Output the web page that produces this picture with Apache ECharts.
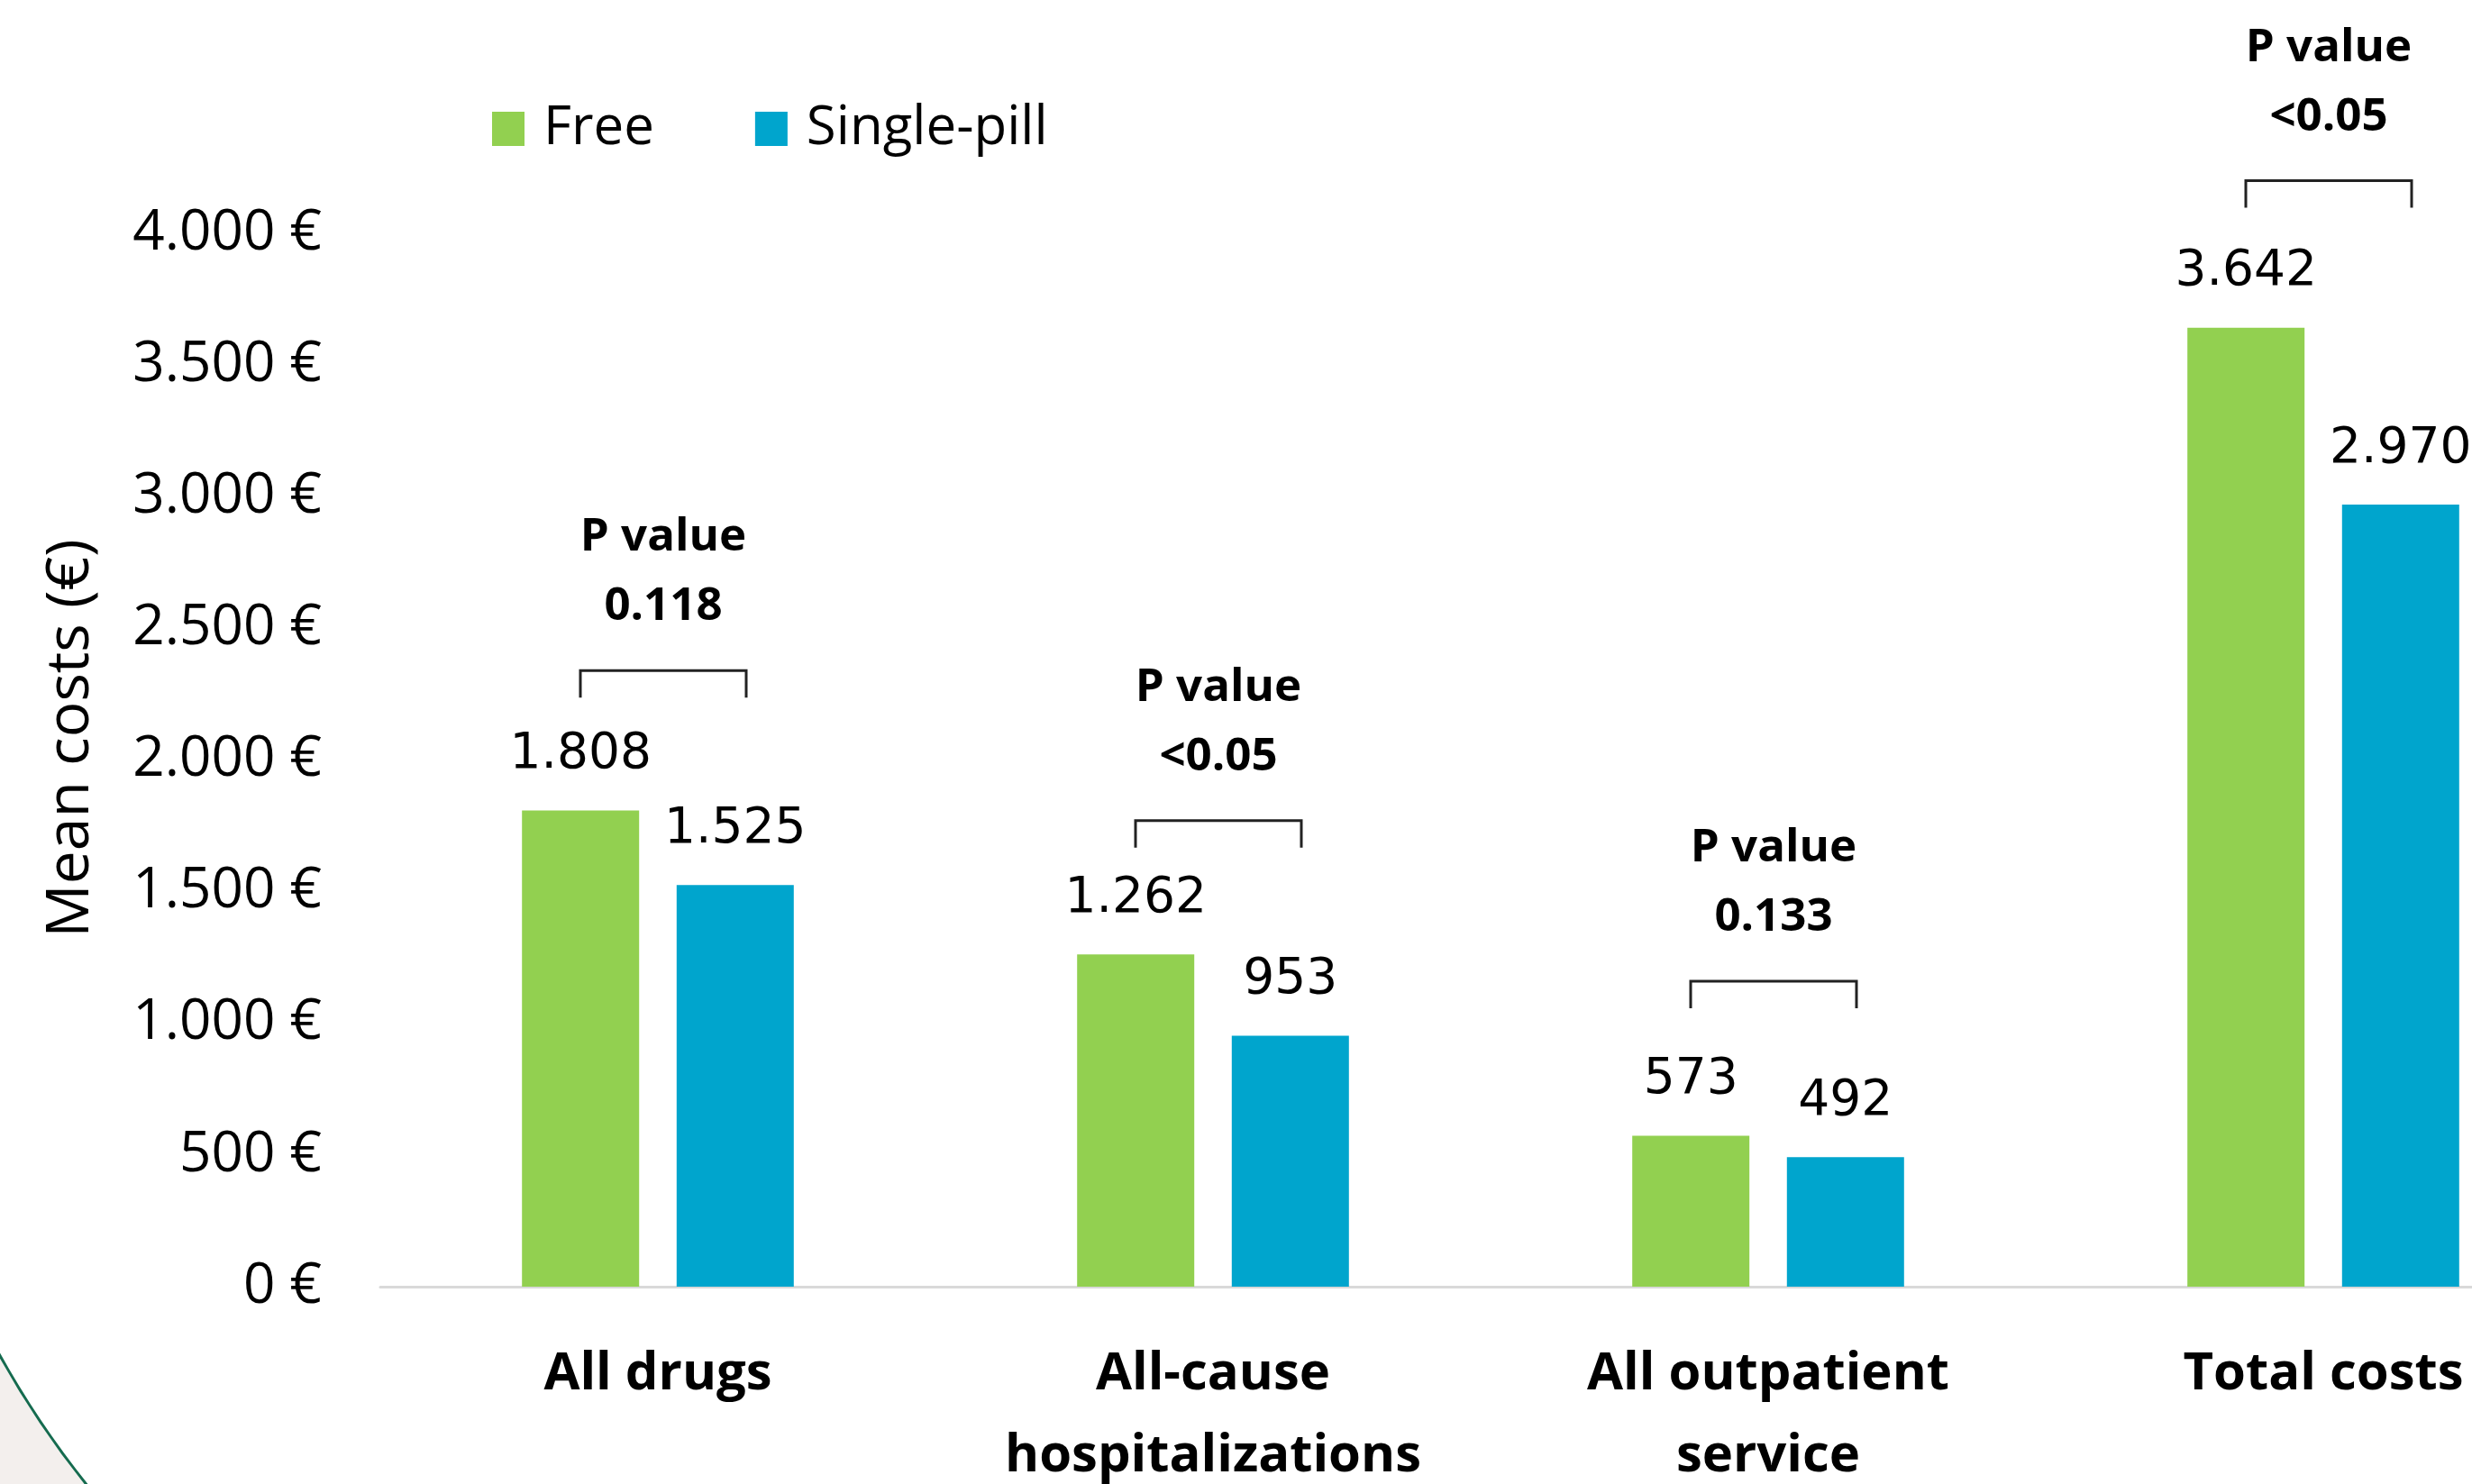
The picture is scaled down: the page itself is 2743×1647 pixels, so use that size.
<!DOCTYPE html>
<html><head><meta charset="utf-8">
<script src="https://cdn.jsdelivr.net/npm/echarts@6/dist/echarts.min.js"></script>
<style>html,body{margin:0;padding:0;background:#fff;overflow:hidden}#c{width:2743px;height:1647px}</style>
</head><body><div id="c"></div>
<script>
// ---- data ----
const categories = ['All drugs', 'All-cause\nhospitalizations', 'All outpatient\nservice', 'Total costs'];
const seriesNames = ['Free', 'Single-pill'];
const freeCosts = [1808, 1262, 573, 3642];
const singlePillCosts = [1525, 953, 492, 2970];
const pValueLabels = ['0.118', '<0.05', '0.133', '<0.05'];
const pBracketLevels = [2340, 1770, 1160, 4200];
const yMin = 0, yMax = 4000, yStep = 500;

// ---- helpers ----
function fmt(v) { return String(v).replace(/\B(?=(\d{3})+(?!\d))/g, '.'); }

const chart = echarts.init(document.getElementById('c'), null, {renderer: 'canvas'});

// decorative corner arc (slide background)
const cx = 906, cy = 1000, R = 1037;
const arcPts = [];
for (let a = 136; a <= 154; a += 0.5) {
  const r = a * Math.PI / 180;
  arcPts.push([cx + R * Math.cos(r), cy + R * Math.sin(r)]);
}
arcPts.push([-20, 1720]);

const option = {
  backgroundColor: '#ffffff',
  animation: false,
  textStyle: {fontFamily: 'Open Sans'},
  graphic: [
    {type: 'polygon', z: -10, shape: {points: arcPts}, style: {fill: '#f3efed'}, silent: true},
    {type: 'arc', z: -9, shape: {cx: cx, cy: cy, r: R, startAngle: 136 * Math.PI / 180, endAngle: 154 * Math.PI / 180},
     style: {stroke: '#156b4f', lineWidth: 3, fill: null}, silent: true}
  ],
  legend: {
    data: seriesNames,
    left: 541,
    top: 108,
    itemWidth: 36,
    itemHeight: 38,
    itemGap: 112,
    icon: 'rect',
    textStyle: {fontFamily: 'Open Sans', fontSize: 60, color: '#000', lineHeight: 60, padding: [0, 0, 0, 16]}
  },
  grid: {left: 422, top: 259, width: 2464, height: 1169, containLabel: false, outerBoundsMode: 'none'},
  xAxis: {
    type: 'category',
    data: categories,
    axisTick: {show: false},
    axisLine: {lineStyle: {color: '#d9d9d9', width: 3}},
    axisLabel: {interval: 0, fontFamily: 'Open Sans', fontWeight: 'bold', fontSize: 58, lineHeight: 91, margin: 52, color: '#000'}
  },
  yAxis: {
    type: 'value',
    min: yMin, max: yMax, interval: yStep,
    splitLine: {show: false},
    axisLine: {show: false},
    axisTick: {show: false},
    axisLabel: {fontFamily: 'Open Sans', fontSize: 62, color: '#000', margin: 65, formatter: v => fmt(v) + ' €'},
    name: 'Mean costs (€)',
    nameLocation: 'middle',
    nameRotate: 90,
    nameGap: 310,
    nameTextStyle: {fontFamily: 'Open Sans', fontSize: 66, color: '#000', padding: [0, 0, 0, 48]}
  },
  series: [
    {
      name: seriesNames[0], type: 'bar', data: freeCosts, barWidth: 130, barGap: '32%',
      itemStyle: {color: '#92d050'},
      label: {show: true, position: 'top', distance: 34, fontFamily: 'DejaVu Sans', fontSize: 55, lineHeight: 55, color: '#000', formatter: p => fmt(p.value)}
    },
    {
      name: seriesNames[1], type: 'bar', data: singlePillCosts, barWidth: 130, barGap: '32%',
      itemStyle: {color: '#00a5cd'},
      label: {show: true, position: 'top', distance: 34, fontFamily: 'DejaVu Sans', fontSize: 55, lineHeight: 55, color: '#000', formatter: p => fmt(p.value)}
    },
    {
      type: 'custom',
      silent: true,
      z: 10,
      clip: false,
      data: pBracketLevels.map((v, i) => [i, v]),
      renderItem: function (params, api) {
        const p = api.coord([api.value(0), api.value(1)]);
        const x0 = p[0] - 86, x1 = p[0] + 98, y = p[1], tick = 30;
        return {
          type: 'group',
          children: [
            {type: 'polyline', shape: {points: [[x0, y + tick], [x0, y], [x1, y], [x1, y + tick]]},
             style: {stroke: '#222', lineWidth: 3, fill: null}},
            {type: 'text', x: (x0 + x1) / 2, y: y - 32,
             style: {text: 'P value\n' + pValueLabels[params.dataIndex], fill: '#000',
                     fontFamily: 'Open Sans', fontWeight: 'bold', fontSize: 51, lineHeight: 77,
                     align: 'center', verticalAlign: 'bottom'}}
          ]
        };
      }
    }
  ]
};
chart.setOption(option);
</script>
</body></html>
